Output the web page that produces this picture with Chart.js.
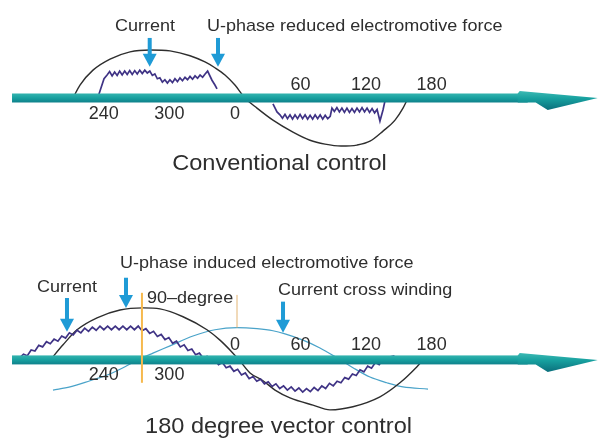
<!DOCTYPE html>
<html>
<head>
<meta charset="utf-8">
<script src="https://cdn.jsdelivr.net/npm/chart.js@4.4.0/dist/chart.umd.min.js"></script>
<style>
  html, body { margin: 0; padding: 0; background: #fff; }
  .panel { width: 601px; height: 220px; }
  canvas { display: block; }
</style>
</head>
<body>
<div class="panel"><canvas id="conventional" width="601" height="220"></canvas></div>
<div class="panel"><canvas id="vector" width="601" height="220"></canvas></div>
<script>
// electrical angle on the horizontal axis (360 is shown as 0)
const angleTicks = [240, 300, 360, 420, 480, 540];
const angleLabels = ['240', '300', '0', '60', '120', '180'];

// --- conventional control ---
const emfTopDeg = [211.8, 218.2, 230.1, 245.7, 264, 282.3, 300.6, 318.9, 332.6, 341.7, 350.9, 360, 369.2, 380.2, 394.8, 413.1, 428.7, 442.4, 457, 471.7, 483.6, 495.5, 506.5, 513.8, 518.4];
const emfTopVal = [0, 27, 58, 81, 96, 100, 98, 88, 75, 63, 48, 27, 0, -21, -46, -71, -88, -96, -100, -98, -90, -69, -46, -21, 0];

// 120-degree block current with PWM ripple, positive half
const curTopADeg = [234.7, 237.4, 240.2, 243, 245.3, 247.6, 249.9, 252.2, 254.5, 256.8, 259.1, 261.4, 263.7, 266, 268.3, 270.6, 272.9, 275.2, 277.5, 279.8, 282.1, 284.4, 286.7, 289, 291.3, 293.6, 295.9, 298.2, 300.5, 302.8, 305.1, 307.4, 309.7, 312, 314.3, 316.6, 318.9, 321.2, 323.5, 325.8, 328.1, 330.4, 332.7, 335, 339, 341.7, 343.6];
const curTopAVal = [2, 21, 40, 48, 55, 46, 54, 47, 56, 48, 56, 49, 57, 49, 57, 50, 58, 51, 58, 52, 56, 47, 50, 40, 42, 33, 38, 31, 38, 32, 40, 34, 42, 36, 43, 38, 45, 39, 46, 41, 48, 43, 50, 56, 37, 27, 19];
// negative half
const curTopBDeg = [394.8, 398.5, 401.2, 403.5, 405.8, 408.1, 410.4, 412.7, 415, 417.3, 419.6, 421.9, 424.2, 426.5, 428.8, 431.1, 433.4, 435.7, 438, 440.3, 442.6, 444.9, 447.2, 448.8, 451, 453.3, 455.6, 457.9, 460.2, 462.5, 464.8, 467.1, 469.4, 471.7, 474, 476.3, 478.6, 480.9, 483.2, 485.5, 487.8, 490.1, 492.7, 495.5, 497.3];
const curTopBVal = [-12, -29, -35, -42, -34, -43, -35, -44, -35, -43, -34, -43, -35, -44, -36, -44, -35, -43, -35, -44, -36, -43, -38, -21, -28, -20, -29, -21, -30, -21, -30, -22, -30, -21, -29, -20, -29, -21, -30, -22, -31, -24, -48, -25, -6];

// --- 180 degree vector control ---
const emfBotDeg = [191, 202.7, 215.5, 233.8, 254.8, 275.9, 291.4, 312.5, 334.4, 346.3, 358.2, 364.6, 373.8, 385.7, 396.7, 410.4, 431.4, 447, 468, 492.7, 511, 526.6, 533.9];
const emfBotVal = [0, 29, 58, 81, 96, 100, 98, 83, 58, 38, 13, -2, -25, -40, -58, -73, -87, -96, -90, -71, -44, -13, 4];

const curBotDeg = [163, 166.5, 170, 173.5, 177, 180.5, 184, 187.5, 191, 194.5, 198, 201.5, 205, 208.5, 212, 215.5, 219, 222.5, 226, 229.5, 233, 236.5, 240, 243.5, 247, 250.5, 254, 257.5, 261, 264.5, 268, 271.5, 275, 278.5, 282, 285.5, 289, 292.5, 296, 299.5, 303, 306.5, 310, 313.5, 317, 320.5, 324, 327.5, 331, 334.5, 338, 341.5, 345, 348.5, 352, 355.5, 359, 362.5, 366, 369.5, 373, 376.5, 380, 383.5, 387, 390.5, 394, 397.5, 401, 404.5, 408, 411.5, 415, 418.5, 422, 425.5, 429, 432.5, 436, 439.5, 443, 446.5, 450, 453.5, 457, 460.5, 464, 467.5, 471, 474.5, 478, 481.5, 485, 488.5, 492, 495.5, 499, 502.5, 506];
const curBotVal = [4, 11, 8, 19, 17, 28, 25, 35, 31, 40, 36, 46, 42, 52, 48, 57, 52, 61, 55, 63, 57, 65, 58, 65, 58, 65, 58, 65, 58, 65, 58, 65, 56, 60, 51, 55, 45, 49, 39, 43, 32, 36, 25, 29, 18, 21, 10, 13, 3, 7, -3, 1, -9, -5, -15, -12, -22, -18, -29, -25, -36, -32, -41, -37, -46, -42, -51, -46, -55, -50, -58, -52, -60, -54, -62, -55, -61, -53, -59, -50, -55, -45, -50, -41, -44, -34, -37, -27, -30, -19, -23, -12, -16, -5, -9, 1, -3, 6, 8];

const crossDeg = [193.5, 209.1, 227.4, 245.7, 259.4, 273.1, 285, 300.6, 321.6, 341.7, 361.9, 380.2, 394.8, 405.8, 422.3, 437.8, 453.4, 468, 483.6, 499.1, 513.8, 536.7];
const crossVal = [-58, -52, -40, -27, -13, 2, 13, 27, 46, 58, 62, 60, 56, 50, 38, 23, 4, -15, -33, -44, -52, -56];

const FONT = '"Liberation Sans", Arial, sans-serif';
const TEXT_COLOR = '#2e2e2e';

function pts(xs, ys) {
  return xs.map((x, i) => ({ x: x, y: ys[i] }));
}

function drawText(ctx, t, x, y, size, align, sx) {
  ctx.save();
  ctx.font = size + 'px ' + FONT;
  ctx.fillStyle = TEXT_COLOR;
  ctx.textAlign = 'left';
  ctx.textBaseline = 'alphabetic';
  const w = ctx.measureText(t).width * sx;
  const left = align === 'center' ? x - w / 2 : x;
  ctx.translate(left, y);
  ctx.scale(sx, 1);
  ctx.fillText(t, 0, 0);
  ctx.restore();
}

function drawDownArrow(ctx, px, top, tip) {
  const head = 13, hw = 7, sw = 2;
  ctx.save();
  ctx.fillStyle = '#1f9bd6';
  ctx.fillRect(px - sw, top, sw * 2, tip - head - top + 1);
  ctx.beginPath();
  ctx.moveTo(px - hw, tip - head);
  ctx.lineTo(px + hw, tip - head);
  ctx.lineTo(px, tip);
  ctx.closePath();
  ctx.fill();
  ctx.restore();
}

// teal angle axis with harpoon head, tick numbers, arrows and captions
const diagramPlugin = {
  id: 'diagram',
  afterDatasetsDraw(chart, args, o) {
    const { ctx } = chart;
    const xs = chart.scales.x, ys = chart.scales.y;
    const y0 = ys.getPixelForValue(0);
    const x1 = xs.getPixelForValue(156);
    const x2 = xs.getPixelForValue(692);

    ctx.save();
    const g = ctx.createLinearGradient(0, y0 - 6, 0, y0 + 6);
    g.addColorStop(0, '#3dbab4');
    g.addColorStop(0.5, '#17a09f');
    g.addColorStop(1, '#0c7684');
    ctx.fillStyle = g;
    ctx.fillRect(x1, y0 - 4.5, x2 - 70 - x1, 9);
    const gh = ctx.createLinearGradient(0, y0 - 7, 0, y0 + 12);
    gh.addColorStop(0, '#3dbab4');
    gh.addColorStop(0.4, '#17a09f');
    gh.addColorStop(1, '#0b6f7c');
    ctx.fillStyle = gh;
    ctx.beginPath();
    ctx.moveTo(x2 - 80, y0 - 4.5);
    ctx.lineTo(x2 - 78, y0 - 7);
    ctx.lineTo(x2, y0);
    ctx.lineTo(x2 - 50, y0 + 12);
    ctx.lineTo(x2 - 62, y0 + 4.5);
    ctx.lineTo(x2 - 80, y0 + 4.5);
    ctx.closePath();
    ctx.fill();
    ctx.restore();

    (o.guides || []).forEach(gd => {
      const gx = xs.getPixelForValue(gd.x);
      ctx.save();
      ctx.strokeStyle = gd.color;
      ctx.lineWidth = gd.width;
      ctx.beginPath();
      ctx.moveTo(gx, ys.getPixelForValue(gd.from));
      ctx.lineTo(gx, ys.getPixelForValue(gd.to));
      ctx.stroke();
      ctx.restore();
    });

    angleTicks.forEach((a, i) => {
      const px = xs.getPixelForValue(a);
      const below = a <= o.belowUpTo;
      ctx.save();
      ctx.font = '18px ' + FONT;
      ctx.fillStyle = TEXT_COLOR;
      ctx.textAlign = 'center';
      ctx.textBaseline = 'middle';
      ctx.fillText(angleLabels[i], px, below ? y0 + o.tickBelow : y0 - o.tickAbove);
      ctx.restore();
    });

    (o.arrows || []).forEach(a => {
      drawDownArrow(ctx, xs.getPixelForValue(a.x), ys.getPixelForValue(a.from), ys.getPixelForValue(a.to));
    });

    (o.texts || []).forEach(t => {
      drawText(ctx, t.text, xs.getPixelForValue(t.x), ys.getPixelForValue(t.y), t.size, t.align, t.sx);
    });
  }
};

function lineSet(data, color, width, smooth) {
  return {
    data: data,
    borderColor: color,
    borderWidth: width,
    pointRadius: 0,
    showLine: true,
    fill: false,
    tension: 0,
    cubicInterpolationMode: smooth ? 'monotone' : 'default'
  };
}

function makeChart(id, datasets, yMin, yMax, deco) {
  return new Chart(document.getElementById(id), {
    type: 'scatter',
    data: { datasets: datasets },
    options: {
      responsive: false,
      animation: false,
      layout: { padding: 0 },
      plugins: {
        legend: { display: false },
        tooltip: { enabled: false },
        diagram: deco
      },
      scales: {
        x: { type: 'linear', min: 145, max: 695, display: false },
        y: { type: 'linear', min: yMin, max: yMax, display: false }
      }
    },
    plugins: [diagramPlugin]
  });
}

makeChart('conventional', [
  lineSet(pts(curTopADeg, curTopAVal), '#3f3385', 1.7, false),
  lineSet(pts(curTopBDeg, curTopBVal), '#3f3385', 1.7, false),
  lineSet(pts(emfTopDeg, emfTopVal), '#2e2e2e', 1.4, true)
], -254, 204, {
  belowUpTo: 360,
  tickBelow: 16,
  tickAbove: 13,
  arrows: [
    { x: 282, from: 125, to: 65 },
    { x: 344.5, from: 125, to: 65 }
  ],
  texts: [
    { text: 'Current', x: 277.7, y: 140, size: 17, align: 'center', sx: 1.06 },
    { text: 'U-phase reduced electromotive force', x: 334.4, y: 140, size: 17, align: 'left', sx: 1.06 },
    { text: 'Conventional control', x: 400.8, y: -150, size: 22, align: 'center', sx: 1.07 }
  ]
});

makeChart('vector', [
  lineSet(pts(curBotDeg, curBotVal), '#3f3385', 1.7, false),
  lineSet(pts(emfBotDeg, emfBotVal), '#2e2e2e', 1.4, true),
  lineSet(pts(crossDeg, crossVal), '#4aa3c9', 1.2, true)
], -154, 269, {
  belowUpTo: 300,
  tickBelow: 15,
  tickAbove: 15,
  guides: [
    { x: 274.9, from: 129, to: -44, color: '#f6b94d', width: 2 },
    { x: 361.9, from: 125, to: 62, color: '#e3b574', width: 1 }
  ],
  arrows: [
    { x: 206.3, from: 119, to: 54 },
    { x: 260.3, from: 158, to: 100 },
    { x: 404, from: 112, to: 52 }
  ],
  texts: [
    { text: 'U-phase induced electromotive force', x: 254.8, y: 177, size: 17, align: 'left', sx: 1.06 },
    { text: 'Current', x: 206.3, y: 131, size: 17, align: 'center', sx: 1.06 },
    { text: '90\u2013degree', x: 279.5, y: 110, size: 17, align: 'left', sx: 1.06 },
    { text: 'Current cross winding', x: 399.4, y: 125, size: 17, align: 'left', sx: 1.06 },
    { text: '180 degree vector control', x: 399.9, y: -140, size: 22, align: 'center', sx: 1.07 }
  ]
});
</script>
</body>
</html>
